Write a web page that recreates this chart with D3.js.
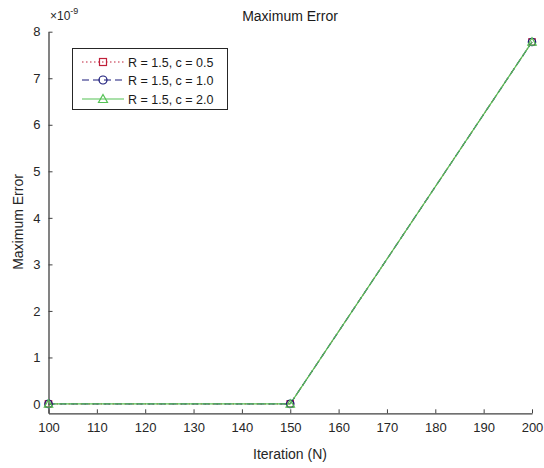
<!DOCTYPE html>
<html><head><meta charset="utf-8">
<script src="https://cdn.jsdelivr.net/npm/d3@7"></script>
<style>body{margin:0;background:#fff;} text{font-family:"Liberation Sans",Arial,sans-serif;}</style>
</head><body><svg id="c" width="544" height="468"></svg>
<script>
const iterations = [100, 150, 200];
const seriesNames = ["R = 1.5, c = 0.5", "R = 1.5, c = 1.0", "R = 1.5, c = 2.0"];
const series05 = [0.002e-9, 0.003e-9, 7.78e-9];
const series10 = [0.002e-9, 0.003e-9, 7.78e-9];
const series20 = [0.002e-9, 0.003e-9, 7.78e-9];
const xTicks = [100, 110, 120, 130, 140, 150, 160, 170, 180, 190, 200];
const yTicks = [0, 1, 2, 3, 4, 5, 6, 7, 8];

const svg = d3.select("#c");
const x = d3.scaleLinear().domain([100, 200]).range([48.5, 532]);
const y = d3.scaleLinear().domain([-0.2e-9, 8e-9]).range([413.3, 31.7]);
const axisColor = "#404040";

// axes
const gx = svg.append("g").attr("transform", "translate(0,413.3)")
  .call(d3.axisBottom(x).tickValues(xTicks).tickSize(-4).tickSizeOuter(0).tickPadding(9).tickFormat(d3.format("d")));
const gy = svg.append("g").attr("transform", "translate(48.5,0)")
  .call(d3.axisLeft(y).tickValues(yTicks.map(v => v * 1e-9)).tickSize(-4).tickSizeOuter(0).tickPadding(8).tickFormat(d => Math.round(d * 1e9)));
[gx, gy].forEach(g => {
  g.select(".domain").attr("stroke", axisColor).attr("stroke-width", 1.3);
  g.selectAll(".tick line").attr("stroke", axisColor);
  g.selectAll(".tick text").attr("fill", "#262626").style("font-size", "13px").style("font-family", "Liberation Sans, Arial, sans-serif");
});

// exponent label
const ex = svg.append("text").attr("x", 50).attr("y", 20).attr("fill", "#262626").style("font-size", "12px");
ex.append("tspan").text("\u00d710");
ex.append("tspan").attr("dy", -6).style("font-size", "9px").text("-9");

// title and labels
svg.append("text").attr("x", 290).attr("y", 21).attr("text-anchor", "middle").attr("fill", "#1a1a1a").style("font-size", "14px").text("Maximum Error");
svg.append("text").attr("x", 290).attr("y", 459).attr("text-anchor", "middle").attr("fill", "#262626").style("font-size", "14px").text("Iteration (N)");
svg.append("text").attr("transform", "translate(23,222) rotate(-90)").attr("text-anchor", "middle").attr("fill", "#262626").style("font-size", "14px").text("Maximum Error");

const styles = [
  {vals: series05, color: "#c0203a", dash: "1.5,2.5", marker: "square"},
  {vals: series10, color: "#1a1a7a", dash: "7,4", marker: "circle"},
  {vals: series20, color: "#55c255", dash: null, marker: "triangle"}
];
const line = d3.line().x((d, i) => x(iterations[i])).y(d => y(d));

function drawMarker(g, type, cx, cy, color, s) {
  if (type === "square") {
    g.append("rect").attr("x", cx - s).attr("y", cy - s).attr("width", 2 * s).attr("height", 2 * s)
      .attr("fill", "none").attr("stroke", color).attr("stroke-width", 1.2);
  } else if (type === "circle") {
    g.append("circle").attr("cx", cx).attr("cy", cy).attr("r", s + 0.5)
      .attr("fill", "none").attr("stroke", color).attr("stroke-width", 1.2);
  } else {
    g.append("path").attr("d", `M${cx},${cy - s - 1}L${cx + s + 1},${cy + s}L${cx - s - 1},${cy + s}Z`)
      .attr("fill", "none").attr("stroke", color).attr("stroke-width", 1.2);
  }
}

const plot = svg.append("g");
styles.forEach(st => {
  plot.append("path").datum(st.vals).attr("d", line).attr("fill", "none")
    .attr("stroke", st.color).attr("stroke-width", 1.2).attr("stroke-dasharray", st.dash);
});
styles.forEach(st => {
  st.vals.forEach((v, i) => drawMarker(plot, st.marker, x(iterations[i]), y(v), st.color, 3.2));
});

// legend
const lg = svg.append("g");
lg.append("rect").attr("x", 72.5).attr("y", 48.5).attr("width", 155).attr("height", 61)
  .attr("fill", "#fff").attr("stroke", "#262626").attr("stroke-width", 1);
const rowsY = [62, 80, 99];
styles.forEach((st, i) => {
  lg.append("line").attr("x1", 82).attr("x2", 124).attr("y1", rowsY[i]).attr("y2", rowsY[i])
    .attr("stroke", st.color).attr("stroke-width", 1.2).attr("stroke-dasharray", st.dash);
  drawMarker(lg, st.marker, 103, rowsY[i], st.color, 3.5);
  lg.append("text").attr("x", 128).attr("y", rowsY[i] + 4.5).attr("fill", "#1a1a1a").style("font-size", "12.5px").text(seriesNames[i]);
});
</script></body></html>
